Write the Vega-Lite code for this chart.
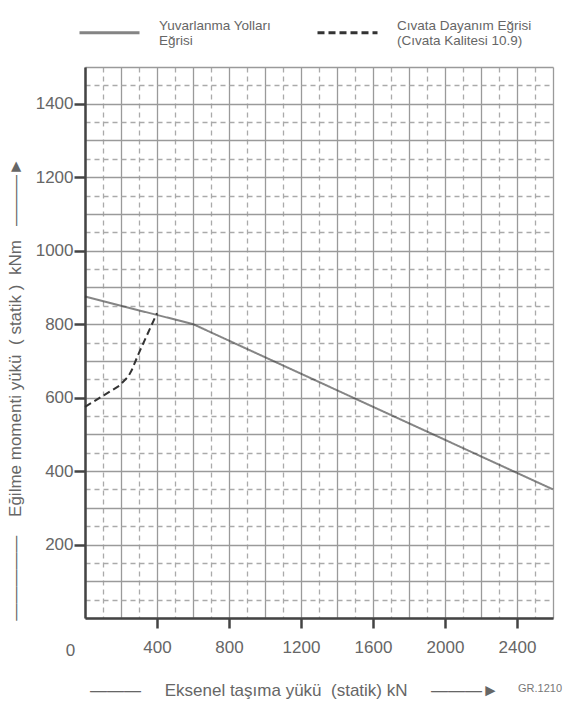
{
  "$schema": "https://vega.github.io/schema/vega-lite/v6.json",
  "autosize": {"type": "none"},
  "padding": {"left": 85, "top": 67, "right": 17, "bottom": 96},
  "width": 468,
  "height": 551,
  "background": "white",
  "config": {
    "font": "Liberation Sans",
    "view": {"stroke": null},
    "axis": {
      "labelFont": "Liberation Sans",
      "titleFont": "Liberation Sans",
      "labelColor": "#666666",
      "titleColor": "#666666",
      "titleFontWeight": "normal",
      "labelFontSize": 17,
      "titleFontSize": 17,
      "domainColor": "#444444",
      "domainWidth": 2.5,
      "tickColor": "#444444",
      "tickWidth": 2.5,
      "labelOverlap": false,
      "labelFlush": false
    },
    "legend": {
      "symbolStrokeWidth": 3,
      "symbolOpacity": 1
    }
  },
  "title": {"text": "GR.1210", "orient": "bottom", "anchor": "end", "fontSize": 11, "fontWeight": "normal", "color": "#777777", "offset": -15, "dx": 5},
  "data": {
    "values": [
      {"series": "Yuvarlanma Yolları Eğrisi", "yuk": 0, "moment": 875},
      {"series": "Yuvarlanma Yolları Eğrisi", "yuk": 600, "moment": 800},
      {"series": "Yuvarlanma Yolları Eğrisi", "yuk": 2600, "moment": 350},
      {"series": "Cıvata Dayanım Eğrisi (Cıvata Kalitesi 10.9)", "yuk": 0, "moment": 575},
      {"series": "Cıvata Dayanım Eğrisi (Cıvata Kalitesi 10.9)", "yuk": 100, "moment": 605},
      {"series": "Cıvata Dayanım Eğrisi (Cıvata Kalitesi 10.9)", "yuk": 190, "moment": 632},
      {"series": "Cıvata Dayanım Eğrisi (Cıvata Kalitesi 10.9)", "yuk": 240, "moment": 657},
      {"series": "Cıvata Dayanım Eğrisi (Cıvata Kalitesi 10.9)", "yuk": 260, "moment": 675},
      {"series": "Cıvata Dayanım Eğrisi (Cıvata Kalitesi 10.9)", "yuk": 300, "moment": 722},
      {"series": "Cıvata Dayanım Eğrisi (Cıvata Kalitesi 10.9)", "yuk": 400, "moment": 830}
    ]
  },
  "mark": {"type": "line"},
  "encoding": {
    "x": {
      "field": "yuk",
      "type": "quantitative",
      "scale": {"domain": [0, 2600], "nice": false},
      "axis": {
        "values": [0,100,200,300,400,500,600,700,800,900,1000,1100,1200,1300,1400,1500,1600,1700,1800,1900,2000,2100,2200,2300,2400,2500,2600],
        "format": "d",
        "labelExpr": "datum.value % 400 === 0 ? datum.label : ''",
        "labelOffset": {"condition": {"test": "datum.value === 0", "value": -15}, "value": 0},
        "labelPadding": {"condition": {"test": "datum.value === 0", "value": 14}, "value": 11},
        "labelBaseline": "top",
        "tickSize": 10,
        "tickOpacity": {"condition": {"test": "datum.value % 400 === 0 && datum.value > 0 && datum.value < 2600", "value": 1}, "value": 0},
        "grid": true,
        "gridColor": {"condition": {"test": "datum.value % 200 === 0", "value": "#9a9a9a"}, "value": "#aaaaaa"},
        "gridDash": {"condition": {"test": "datum.value % 200 === 0", "value": []}, "value": [5, 4]},
        "gridWidth": 1.3,
        "title": "———\u00a0\u00a0\u00a0\u00a0\u00a0Eksenel taşıma yükü\u00a0\u00a0(statik) kN\u00a0\u00a0\u00a0\u00a0\u00a0———►",
        "titleX": 209,
        "titleY": 72,
        "titleAlign": "center",
        "titleBaseline": "middle"
      }
    },
    "y": {
      "field": "moment",
      "type": "quantitative",
      "scale": {"domain": [0, 1500], "nice": false},
      "axis": {
        "values": [0,50,100,150,200,250,300,350,400,450,500,550,600,650,700,750,800,850,900,950,1000,1050,1100,1150,1200,1250,1300,1350,1400,1450,1500],
        "format": "d",
        "labelExpr": "datum.value % 200 === 0 && datum.value > 0 ? datum.label : ''",
        "labelPadding": 1,
        "tickSize": 11,
        "tickOpacity": {"condition": {"test": "datum.value % 200 === 0 && datum.value > 0", "value": 1}, "value": 0},
        "grid": true,
        "gridColor": {"condition": {"test": "datum.value % 100 === 0", "value": "#9a9a9a"}, "value": "#aaaaaa"},
        "gridDash": {"condition": {"test": "datum.value % 100 === 0", "value": []}, "value": [5, 4]},
        "gridWidth": 1.3,
        "title": "—————\u00a0\u00a0\u00a0\u00a0Eğilme momenti yükü\u00a0\u00a0(\u00a0statik\u00a0)\u00a0\u00a0kNm\u00a0\u00a0\u00a0———►",
        "titleAngle": 270,
        "titleX": -70,
        "titleY": 322,
        "titleAlign": "center",
        "titleBaseline": "middle"
      }
    },
    "color": {
      "field": "series",
      "type": "nominal",
      "scale": {"domain": ["Yuvarlanma Yolları Eğrisi", "Cıvata Dayanım Eğrisi (Cıvata Kalitesi 10.9)"], "range": ["#333333", "#333333"]},
      "legend": {
        "title": null,
        "orient": "none",
        "legendX": -7,
        "legendY": -66,
        "direction": "horizontal",
        "symbolType": "stroke",
        "symbolSize": 3600,
        "symbolStrokeWidth": 3,
        "symbolOpacity": 1,
        "labelFontSize": 13.5,
        "labelColor": "#666666",
        "labelOffset": 18,
        "columnPadding": 39,
        "labelLimit": 300,
        "padding": 0,
        "labelBaseline": "bottom",
        "labelExpr": "datum.value === 'Yuvarlanma Yolları Eğrisi' ? ['Yuvarlanma Yolları', 'Eğrisi'] : ['Cıvata Dayanım Eğrisi', '(Cıvata Kalitesi 10.9)']"
      }
    },
    "strokeDash": {
      "field": "series",
      "type": "nominal",
      "scale": {"domain": ["Yuvarlanma Yolları Eğrisi", "Cıvata Dayanım Eğrisi (Cıvata Kalitesi 10.9)"], "range": [[1, 0], [7, 4]]},
      "legend": {
        "title": null,
        "orient": "none",
        "legendX": -7,
        "legendY": -66,
        "direction": "horizontal",
        "symbolType": "stroke",
        "symbolSize": 3600,
        "symbolStrokeWidth": 3,
        "symbolOpacity": 1,
        "labelFontSize": 13.5,
        "labelColor": "#666666",
        "labelOffset": 18,
        "columnPadding": 39,
        "labelLimit": 300,
        "padding": 0,
        "labelBaseline": "bottom",
        "labelExpr": "datum.value === 'Yuvarlanma Yolları Eğrisi' ? ['Yuvarlanma Yolları', 'Eğrisi'] : ['Cıvata Dayanım Eğrisi', '(Cıvata Kalitesi 10.9)']"
      }
    },
    "opacity": {
      "field": "series",
      "type": "nominal",
      "scale": {"domain": ["Yuvarlanma Yolları Eğrisi", "Cıvata Dayanım Eğrisi (Cıvata Kalitesi 10.9)"], "range": [0.6, 1]},
      "legend": null
    }
  }
}
